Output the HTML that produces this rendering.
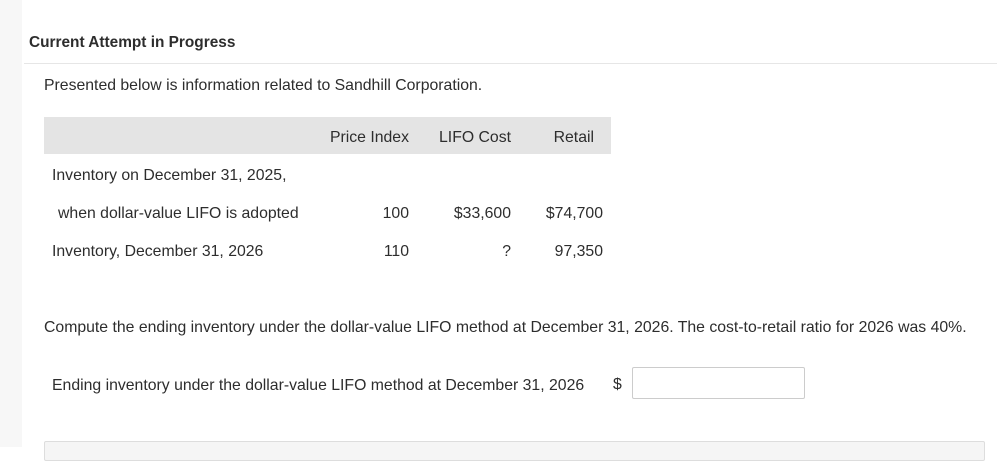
<!DOCTYPE html>
<html><head><meta charset="utf-8"><style>
body{margin:0;width:997px;height:447px;overflow:hidden;background:#fff;font-family:"Liberation Sans",sans-serif;color:#2d2d2d;position:relative}
.a{position:absolute;white-space:nowrap;font-size:15.8px;line-height:18px}
.r{text-align:right}
</style></head><body>
<div style="position:absolute;left:0;top:0;width:22px;height:447px;background:#f7f7f7"></div>
<div class="a" style="left:29px;top:34px;font-weight:bold;font-size:15.4px">Current Attempt in Progress</div>
<div style="position:absolute;left:24px;top:63px;width:973px;height:1px;background:#e6e6e6"></div>
<div class="a" style="left:44px;top:77px">Presented below is information related to Sandhill Corporation.</div>
<div style="position:absolute;left:44px;top:117px;width:567px;height:37px;background:#e4e4e4"></div>
<div class="a r" style="right:588px;top:129px">Price Index</div>
<div class="a r" style="right:486px;top:129px">LIFO Cost</div>
<div class="a r" style="right:403px;top:129px">Retail</div>
<div class="a" style="left:52px;top:167px">Inventory on December 31, 2025,</div>
<div class="a" style="left:58px;top:205px">when dollar-value LIFO is adopted</div>
<div class="a r" style="right:588px;top:205px">100</div>
<div class="a r" style="right:486px;top:205px">$33,600</div>
<div class="a r" style="right:394px;top:205px">$74,700</div>
<div class="a" style="left:52px;top:243px">Inventory, December 31, 2026</div>
<div class="a r" style="right:588px;top:243px">110</div>
<div class="a r" style="right:486px;top:243px">?</div>
<div class="a r" style="right:394px;top:243px">97,350</div>
<div class="a" style="left:44px;top:319px">Compute the ending inventory under the dollar-value LIFO method at December 31, 2026. The cost-to-retail ratio for 2026 was 40%.</div>
<div class="a" style="left:52px;top:377px">Ending inventory under the dollar-value LIFO method at December 31, 2026</div>
<div class="a" style="left:613px;top:376px">$</div>
<input style="position:absolute;left:632px;top:367px;width:173px;height:32px;box-sizing:border-box;border:1px solid #ccc;border-radius:2px;margin:0">
<div style="position:absolute;left:44px;top:441px;width:941px;height:20px;background:#f5f5f5;border:1px solid #ddd;box-sizing:border-box;border-radius:2px"></div>
</body></html>
